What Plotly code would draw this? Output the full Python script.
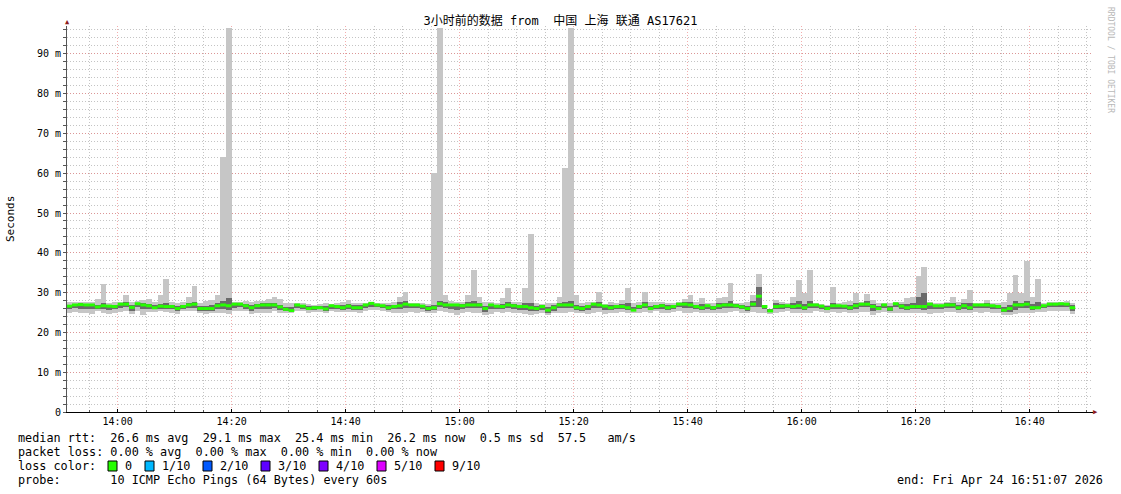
import pandas as pd
import plotly.graph_objects as go

# SmokePing style latency chart: 3 h of 1-minute bins (values in ms)
START = "2026-04-24 13:51:00"
RANGE = ["2026-04-24 13:51:07", "2026-04-24 16:51:07"]

MED = [
    26.6, 26.9, 27.0, 26.9, 26.9, 26.4, 26.7, 26.6, 26.5, 27.1,
    27.1, 26.3, 27.2, 26.9, 26.7, 26.2, 26.6, 26.5, 26.5, 26.0,
    26.5, 26.9, 27.1, 26.0, 26.0, 26.0, 26.7, 26.9, 26.7, 27.1,
    27.1, 26.7, 26.2, 26.7, 26.9, 26.9, 26.9, 26.4, 25.8, 25.5,
    26.9, 26.6, 26.0, 26.2, 26.2, 25.9, 26.7, 26.5, 26.2, 26.6,
    26.2, 26.2, 26.9, 27.3, 26.9, 26.7, 26.2, 26.5, 26.7, 27.1,
    26.9, 26.9, 26.6, 26.0, 26.2, 27.2, 26.9, 26.9, 26.9, 26.7,
    26.9, 26.9, 26.9, 26.0, 26.9, 26.6, 26.5, 26.9, 26.7, 26.5,
    26.5, 26.2, 26.0, 26.5, 25.6, 26.2, 26.9, 26.9, 26.9, 26.2,
    26.0, 26.5, 27.1, 26.9, 26.6, 26.2, 26.5, 26.5, 26.2, 25.6,
    26.5, 26.9, 26.0, 26.5, 26.7, 26.2, 26.5, 27.1, 27.1, 26.9,
    26.5, 26.2, 26.7, 26.2, 26.7, 26.9, 26.9, 26.7, 26.4, 26.0,
    27.1, 29.1, 26.5, 25.4, 26.5, 26.6, 26.7, 26.5, 26.7, 26.2,
    26.9, 26.9, 26.6, 26.0, 26.7, 26.7, 26.6, 26.2, 26.7, 27.1,
    27.1, 26.5, 26.0, 26.9, 25.9, 27.2, 26.6, 26.2, 26.5, 26.5,
    26.5, 27.1, 26.7, 26.7, 26.9, 26.9, 26.2, 26.7, 26.2, 26.9,
    26.9, 26.9, 26.7, 26.5, 25.6, 26.0, 26.9, 26.9, 27.1, 26.2,
    26.2, 26.7, 27.1, 27.1, 27.2, 27.1, 26.2,
]

HI = [
    27.6, 27.6, 27.7, 27.6, 27.6, 28.4, 32.1, 27.3, 27.7, 27.6,
    29.4, 27.7, 27.8, 28.2, 28.4, 27.7, 29.3, 33.4, 27.7, 27.3,
    27.7, 29.0, 31.7, 27.3, 27.9, 28.1, 29.4, 64.1, 96.5, 27.7,
    27.7, 27.9, 27.7, 27.9, 27.9, 28.3, 29.0, 28.4, 27.3, 27.3,
    27.4, 27.3, 27.1, 26.9, 27.1, 27.3, 27.1, 27.3, 27.7, 28.1,
    27.3, 27.3, 27.5, 27.7, 27.3, 27.3, 27.3, 27.7, 28.8, 30.2,
    27.3, 27.3, 27.3, 27.1, 60.0, 96.5, 29.3, 27.9, 27.7, 27.7,
    29.4, 35.7, 29.0, 27.7, 27.7, 27.5, 28.6, 31.1, 27.7, 27.7,
    31.1, 44.7, 27.3, 27.1, 27.3, 27.3, 29.0, 61.3, 96.5, 29.3,
    27.3, 27.7, 27.7, 30.2, 27.1, 27.7, 27.3, 28.1, 31.1, 27.3,
    27.7, 30.2, 27.7, 27.7, 27.7, 27.5, 27.5, 27.7, 28.4, 29.3,
    27.7, 28.6, 27.3, 27.3, 28.6, 29.0, 32.3, 27.5, 27.3, 27.7,
    29.4, 34.8, 26.9, 26.0, 28.1, 27.7, 27.3, 29.0, 33.1, 29.9,
    35.7, 27.3, 27.1, 26.9, 31.5, 27.3, 27.7, 27.9, 29.9, 27.7,
    29.6, 28.1, 27.3, 27.3, 27.3, 27.7, 27.7, 28.6, 28.8, 34.3,
    36.5, 27.7, 27.3, 27.3, 27.7, 28.8, 27.7, 28.4, 30.6, 27.3,
    27.3, 28.1, 27.3, 27.3, 27.7, 29.9, 34.4, 29.9, 37.9, 29.0,
    33.4, 27.3, 27.7, 27.7, 27.7, 27.9, 27.3,
]

LO = [
    25.0, 25.2, 25.0, 25.0, 24.6, 25.3, 25.0, 24.6, 25.0, 25.2,
    25.4, 24.6, 25.4, 24.5, 25.2, 25.2, 25.3, 25.2, 25.0, 24.6,
    25.3, 25.3, 25.3, 24.8, 24.7, 24.9, 25.0, 25.0, 24.6, 25.3,
    25.4, 25.3, 24.6, 25.0, 25.0, 25.0, 25.3, 24.8, 25.0, 25.0,
    25.3, 25.3, 25.0, 25.1, 25.2, 24.8, 25.3, 25.1, 25.2, 25.1,
    25.2, 25.0, 25.4, 25.6, 25.6, 25.5, 25.2, 25.0, 24.8, 25.0,
    25.2, 25.0, 25.2, 25.0, 25.0, 25.4, 25.2, 24.8, 24.3, 25.0,
    25.1, 25.0, 25.0, 24.4, 24.6, 25.2, 25.0, 25.2, 25.0, 24.8,
    24.6, 24.4, 24.6, 24.8, 24.3, 24.8, 25.0, 25.0, 25.2, 25.0,
    24.8, 24.6, 25.0, 25.2, 24.6, 25.0, 25.0, 25.2, 24.8, 25.0,
    25.0, 25.2, 25.0, 25.3, 25.0, 25.0, 25.2, 25.3, 25.0, 25.0,
    25.2, 25.0, 25.0, 24.8, 25.0, 25.0, 25.2, 25.3, 25.0, 24.8,
    25.2, 25.0, 25.0, 24.6, 25.0, 25.2, 25.3, 25.0, 25.0, 24.8,
    25.0, 25.3, 25.2, 25.0, 25.2, 25.0, 25.2, 24.8, 25.0, 25.2,
    25.2, 24.5, 25.0, 25.2, 24.8, 25.0, 25.0, 25.0, 25.0, 25.0,
    24.8, 24.6, 25.0, 25.0, 25.2, 25.2, 25.0, 25.0, 24.8, 25.2,
    25.0, 25.2, 25.0, 25.0, 24.5, 24.4, 24.6, 25.0, 25.0, 25.0,
    25.2, 25.2, 25.3, 25.4, 25.4, 25.3, 24.6,
]

Q1 = [
    25.9, 26.1, 26.0, 26.0, 25.9, 25.8, 26.0, 25.7, 25.8, 26.2,
    26.3, 25.5, 26.3, 26.0, 26.0, 25.8, 26.0, 25.9, 25.8, 25.4,
    25.9, 26.1, 26.2, 25.5, 25.4, 25.5, 25.9, 26.0, 25.7, 26.2,
    26.3, 26.0, 25.4, 25.9, 26.0, 26.0, 26.1, 25.6, 25.4, 25.3,
    26.1, 25.9, 25.6, 25.7, 25.8, 25.4, 26.0, 25.8, 25.7, 25.9,
    25.7, 25.6, 26.2, 26.4, 26.3, 26.1, 25.7, 25.8, 25.8, 26.2,
    26.2, 26.1, 26.0, 25.5, 25.6, 26.4, 26.1, 25.9, 25.6, 26.0,
    26.1, 26.1, 26.1, 25.2, 25.8, 25.9, 25.8, 26.2, 26.0, 25.7,
    25.6, 25.3, 25.3, 25.7, 25.0, 25.5, 26.1, 26.1, 26.2, 25.7,
    25.5, 25.6, 26.1, 26.2, 25.7, 25.7, 25.8, 25.9, 25.6, 25.3,
    25.8, 26.2, 25.6, 26.0, 26.0, 25.7, 25.9, 26.3, 26.2, 26.1,
    25.9, 25.7, 26.0, 25.6, 26.0, 26.1, 26.2, 26.1, 25.8, 25.4,
    26.3, 26.4, 25.9, 25.1, 25.8, 26.0, 26.1, 25.8, 26.0, 25.6,
    26.1, 26.2, 26.0, 25.6, 26.0, 26.0, 26.0, 25.6, 26.0, 26.3,
    26.3, 25.5, 25.6, 26.2, 25.3, 26.3, 25.9, 25.7, 25.8, 25.8,
    25.6, 26.0, 26.0, 26.0, 26.2, 26.2, 25.7, 26.0, 25.6, 26.2,
    26.1, 26.2, 26.0, 25.8, 25.1, 25.2, 25.6, 26.1, 26.2, 25.7,
    25.8, 26.1, 26.3, 26.4, 26.4, 26.3, 25.5,
]

Q3 = [
    27.0, 27.2, 27.3, 27.2, 27.2, 27.0, 27.4, 27.0, 27.0, 27.3,
    27.6, 26.9, 27.5, 27.4, 27.2, 26.8, 27.2, 27.3, 27.0, 26.6,
    27.0, 27.5, 27.6, 26.6, 26.7, 26.8, 27.3, 27.8, 28.7, 27.4,
    27.4, 27.1, 26.8, 27.1, 27.3, 27.4, 27.5, 27.0, 26.5, 26.3,
    27.2, 27.0, 26.6, 26.6, 26.7, 26.6, 27.0, 27.0, 26.9, 27.2,
    26.8, 26.8, 27.2, 27.5, 27.1, 27.0, 26.8, 27.0, 27.6, 28.0,
    27.1, 27.1, 27.0, 26.6, 27.0, 27.8, 27.6, 27.2, 27.2, 27.1,
    27.6, 27.8, 27.4, 26.7, 27.2, 27.0, 27.2, 27.6, 27.1, 27.0,
    27.3, 27.3, 26.7, 26.8, 26.3, 26.8, 27.5, 27.6, 27.8, 27.0,
    26.7, 27.0, 27.4, 27.6, 26.9, 26.8, 27.0, 27.2, 27.3, 26.3,
    27.0, 27.6, 26.6, 27.0, 27.1, 26.8, 27.0, 27.4, 27.6, 27.6,
    27.0, 27.2, 27.0, 26.7, 27.3, 27.5, 27.8, 27.1, 26.9, 26.6,
    28.0, 31.5, 26.8, 25.8, 27.3, 27.1, 27.0, 27.4, 27.8, 27.2,
    27.8, 27.1, 26.9, 26.6, 27.5, 27.0, 27.0, 26.8, 27.5, 27.4,
    27.8, 27.1, 26.6, 27.1, 26.6, 27.5, 27.1, 27.2, 27.4, 29.0,
    29.9, 27.4, 27.0, 27.0, 27.3, 27.5, 26.9, 27.3, 27.4, 27.1,
    27.1, 27.4, 27.0, 26.9, 26.5, 27.0, 27.8, 27.5, 27.9, 27.1,
    27.6, 27.0, 27.4, 27.4, 27.5, 27.5, 26.8,
]

Y_TICKS = [0, 10, 20, 30, 40, 50, 60, 70, 80, 90]
Y_TICK_TEXT = ["0", "10 m", "20 m", "30 m", "40 m", "50 m", "60 m", "70 m", "80 m", "90 m"]

LOSS_LABELS = ["0", "1/10", "2/10", "3/10", "4/10", "5/10", "9/10"]
LOSS_COLORS = ["#26ff00", "#00b8ff", "#0059ff", "#5e00ff", "#7e00ff", "#dd00ff", "#ff0000"]

TITLE = "3小时前的数据 from  中国 上海 联通 AS17621"
LEGEND_LINES = [
    "median rtt:  26.6 ms avg  29.1 ms max  25.4 ms min  26.2 ms now  0.5 ms sd  57.5   am/s",
    "packet loss: 0.00 % avg  0.00 % max  0.00 % min  0.00 % now",
    "loss color:",
    "probe:       10 ICMP Echo Pings (64 Bytes) every 60s",
]
END_TEXT = "end: Fri Apr 24 16:51:07 2026"

MONO = "DejaVu Sans Mono, Noto Sans CJK SC, monospace"
RED_GRID = "rgba(235,120,120,0.6)"
GRAY_GRID = "#c4c4c4"
DOTS = "1px,2px"
LEGEND_SIZE = 11.8

# geometry of the plot area in page pixels
W, H = 1121, 494
L, R, T, B = 67, 1093, 26, 412


def px_x(px):
    return (px - L) / (R - L)


def px_y(py):
    return (B - py) / (B - T)


def label(text, x, y, size=LEGEND_SIZE, color="#000", xanchor="left", **kw):
    return dict(text=text, xref="paper", yref="paper", x=px_x(x), y=px_y(y),
                xanchor=xanchor, yanchor="middle", showarrow=False,
                font=dict(family=MONO, size=size, color=color), **kw)


bins = pd.date_range(START, periods=len(MED), freq="60s")
centers = bins + pd.Timedelta(seconds=30)
step = pd.Timedelta(seconds=60)

fig = go.Figure()

# outer smoke (min..max)
fig.add_trace(go.Bar(
    x=centers, base=LO, y=[h - l for h, l in zip(HI, LO)],
    width=60000, marker=dict(color="#c6c6c6", line=dict(width=0)),
    hoverinfo="skip", showlegend=False,
))
# inner smoke
fig.add_trace(go.Bar(
    x=centers, base=Q1, y=[h - l for h, l in zip(Q3, Q1)],
    width=60000, marker=dict(color="#6a6a6a", line=dict(width=0)),
    hoverinfo="skip", showlegend=False,
))

# median, one short segment per bin
mx, my = [], []
for t, m in zip(bins, MED):
    mx += [t, t + step, None]
    my += [m, m, None]
fig.add_trace(go.Scatter(
    x=mx, y=my, mode="lines",
    line=dict(color=LOSS_COLORS[0], width=3),
    hoverinfo="skip", showlegend=False,
))

annotations = [
    label("Seconds", 10, (T + B) / 2, size=11, xanchor="center", textangle=-90),
    label("RRDTOOL / TOBI OETIKER", 1110, 60, size=8, color="#b8b8b8",
          xanchor="center", textangle=90),
    label("▲", 67, 22, size=7, color="#8b1a1a", xanchor="center"),
    label("▶", 1095, 412, size=7, color="#8b1a1a", xanchor="center"),
    label(END_TEXT, 1105, 480, xanchor="right"),
]
for k, line in enumerate(LEGEND_LINES):
    annotations.append(label(line.replace(" ", "&nbsp;"), 16, 438 + 14 * k))

shapes = []
for k, (lab, col) in enumerate(zip(LOSS_LABELS, LOSS_COLORS)):
    bx = 108 if k == 0 else 145 + 58 * (k - 1)
    shapes.append(dict(
        type="rect", xref="paper", yref="paper",
        x0=px_x(bx), x1=px_x(bx + 9), y0=px_y(471), y1=px_y(461),
        fillcolor=col, line=dict(color="#000", width=1),
    ))
    annotations.append(label(lab, bx + 15, 466))

fig.update_layout(
    width=W, height=H,
    margin=dict(l=L, r=W - R, t=T, b=H - B),
    paper_bgcolor="#ffffff", plot_bgcolor="#ffffff",
    barmode="overlay", bargap=0,
    title=dict(text=TITLE, x=0.5, xref="container", xanchor="center",
               y=1 - 21 / H, yref="container", yanchor="middle",
               font=dict(family=MONO, size=12, color="#000")),
    font=dict(family=MONO, size=10, color="#000"),
    showlegend=False,
    annotations=annotations,
    shapes=shapes,
    xaxis=dict(
        type="date", range=RANGE, tickformat="%H:%M",
        tick0="2026-04-24 14:00", dtick=20 * 60000,
        showgrid=True, gridcolor=RED_GRID, griddash=DOTS, gridwidth=1,
        minor=dict(tick0="2026-04-24 14:00", dtick=5 * 60000, showgrid=True,
                   gridcolor=GRAY_GRID, griddash=DOTS, ticks="inside", ticklen=2,
                   tickcolor="#555"),
        ticks="inside", ticklen=3, tickcolor="#000",
        showline=True, linecolor="#000", linewidth=1,
        zeroline=False, tickfont=dict(family=MONO, size=10, color="#000"),
        fixedrange=True,
    ),
    yaxis=dict(
        range=[0, 97], tickvals=Y_TICKS, ticktext=Y_TICK_TEXT,
        showgrid=True, gridcolor=RED_GRID, griddash=DOTS, gridwidth=1,
        minor=dict(dtick=2, showgrid=True, gridcolor=GRAY_GRID, griddash=DOTS,
                   ticks="outside", ticklen=3, tickcolor="#555"),
        ticks="outside", ticklen=3, tickcolor="#555",
        showline=True, linecolor="#555", linewidth=1,
        zeroline=False, tickfont=dict(family=MONO, size=10, color="#000"),
        fixedrange=True,
    ),
)

fig.write_html(
    "out.html",
    config={"displayModeBar": False},
    post_script="document.body.style.margin='0';document.body.style.overflow='hidden';",
)
